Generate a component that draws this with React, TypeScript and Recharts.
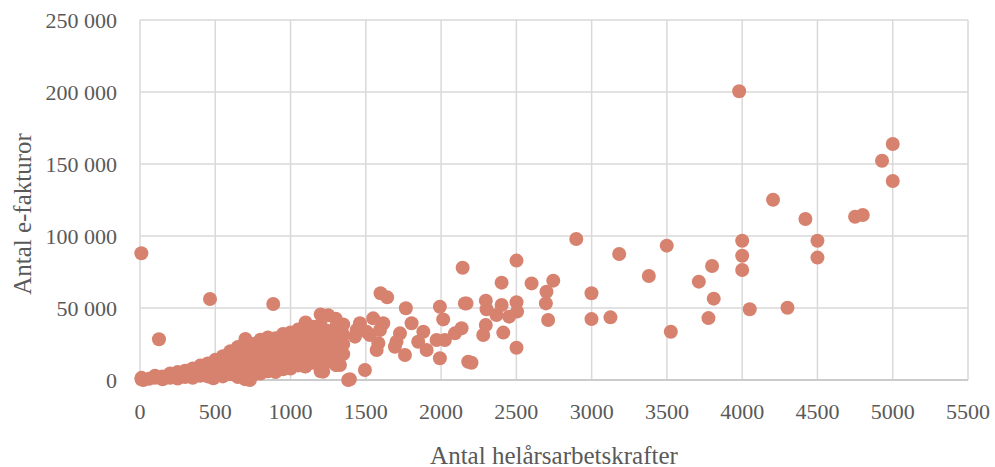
import React from 'react';
import { ScatterChart, Scatter, XAxis, YAxis, CartesianGrid } from 'recharts';

const xTicks = [0, 500, 1000, 1500, 2000, 2500, 3000, 3500, 4000, 4500, 5000, 5500];
const yTicks = [0, 50000, 100000, 150000, 200000, 250000];

// Dense cluster (x, y pairs)
const clusterX = [
  10, 10, 60, 100, 100, 150, 150, 200, 200, 250, 250, 250, 300, 300, 350, 350, 350,
  400, 400, 400, 450, 450, 450, 500, 500, 500, 550, 550, 550, 550,
  600, 600, 600, 600, 650, 650, 650, 650, 650,
  700, 700, 700, 700, 700, 700, 750, 750, 750, 750, 750,
  800, 800, 800, 800, 800, 850, 850, 850, 850, 850,
  900, 900, 900, 900, 900, 950, 950, 950, 950, 950,
  1000, 1000, 1000, 1000, 1000, 1050, 1050, 1050, 1050, 1050,
  1100, 1100, 1100, 1100, 1100, 1100, 1150, 1150, 1150, 1150, 1150,
  1200, 1200, 1200, 1200, 1200, 1200, 1200, 1250, 1250, 1250, 1250, 1250,
  1300, 1300, 1300, 1300, 1300, 1300, 1350, 1350, 1350, 1350,
  22, 487, 730, 1096, 1217, 1306, 1383, 1328, 1328,
];
const clusterY = [
  500, 1500, 800, 1500, 3000, 500, 2500, 1500, 4500, 1000, 3500, 5500, 2000, 6500, 1500, 4500, 8000,
  3000, 6000, 10000, 2500, 7500, 11500, 3500, 9000, 14000, 2500, 6500, 11000, 16500,
  4000, 9000, 14000, 20000, 2000, 7500, 12500, 17500, 23000,
  500, 5000, 10500, 16000, 22000, 28500, 3500, 8500, 14000, 19500, 25000,
  4500, 10000, 15500, 21000, 28000, 6000, 12000, 18000, 24000, 29500,
  5500, 11000, 17000, 23000, 29000, 7500, 13000, 19000, 25000, 32000,
  8000, 14500, 21000, 27500, 33000, 10000, 16000, 22500, 29000, 35000,
  9500, 15000, 21500, 28000, 34500, 40000, 12000, 18000, 24500, 31000, 37000,
  6000, 11000, 17000, 23500, 30000, 38000, 45500, 13000, 20000, 27000, 34000, 45000,
  10500, 16500, 22000, 29500, 36500, 42500, 18000, 25000, 31500, 38500,
  0, 1200, 0, 9300, 5800, 10400, 0, 18700, 10400,
];

// Mid and upper range points
const spreadX = [
  9, 126, 465, 885,
  1598, 1642, 1766, 1992, 2014, 2158, 1549, 1616, 1461, 1439, 1505, 1594, 1428, 1527,
  1583, 1572, 1727, 1704, 1693, 1760, 1804, 1882, 1848, 1904, 1970, 2025, 2092, 2136,
  1992, 1494, 1394, 2180,
  2501, 2143, 2402, 2601, 2745, 2700, 2696, 2711, 2169, 2297, 2302, 2402, 2501, 2505,
  2368, 2452, 2297, 2280, 2413, 2501, 2202,
  2898, 3183, 3499, 3380, 2999, 2999, 3125, 3526, 3712, 3800, 3811, 3776,
  4000, 4000, 4000, 4050, 4301,
  3980, 5000, 4929, 5000, 4205, 4420, 4750, 4801, 4500, 4500,
];
const spreadY = [
  88000, 28300, 56200, 52800,
  60200, 57400, 49800, 50900, 42100, 53200, 42800, 39400, 39400, 34700, 33500, 34700, 30100, 31200,
  25500, 20800, 32400, 26600, 23100, 17400, 39400, 33500, 26600, 20800, 27800, 27800, 32400, 35900,
  15100, 6900, 500, 12700,
  82900, 78000, 67600, 67100, 69000, 61300, 53200, 41700, 53200, 55100, 49100, 52100, 54000, 47500,
  45100, 44000, 38200, 31200, 32900, 22400, 12000,
  97900, 87500, 93300, 72200, 60200, 42300, 43500, 33500, 68300, 79200, 56500, 43000,
  96700, 86300, 76400, 49100, 50200,
  200500, 163900, 152300, 138200, 125200, 111800, 113400, 114600, 96700, 85000,
];

const points = [
  ...clusterX.map((x, i) => ({ x, y: clusterY[i] })),
  ...spreadX.map((x, i) => ({ x, y: spreadY[i] })),
];

const fmt = (v: number) => String(v).replace(/\B(?=(\d{3})+(?!\d))/g, ' ');

const FONT = "'Liberation Serif', 'Times New Roman', serif";
const TXT = '#595959';
const DOT = '#D7826F';

const Dot = (props: any) => <circle cx={props.cx} cy={props.cy} r={7} fill={DOT} />;

export default function App() {
  return (
    <div style={{ width: 995, height: 467, background: '#fff' }}>
      <style>{'body{margin:0;}'}</style>
      <ScatterChart width={995} height={467} margin={{ top: 20, right: 27, bottom: 0, left: 0 }}>
        <CartesianGrid stroke="#d9d9d9" strokeWidth={1.5} />
        <XAxis
          type="number"
          dataKey="x"
          domain={[0, 5500]}
          ticks={xTicks}
          interval={0}
          height={87}
          tickSize={0}
          tickMargin={23}
          axisLine={{ stroke: '#cccccc', strokeWidth: 2 }}
          tick={{ fill: TXT, fontSize: 22, fontFamily: FONT }}
          label={{
            content: () => (
              <text
                x={554}
                y={455}
                textAnchor="middle"
                dominantBaseline="central"
                fill={TXT}
                fontSize={25}
                fontFamily={FONT}
              >
                Antal helårsarbetskrafter
              </text>
            ),
          }}
        />
        <YAxis
          type="number"
          dataKey="y"
          domain={[0, 250000]}
          ticks={yTicks}
          interval={0}
          width={140}
          tickSize={0}
          tickMargin={23}
          axisLine={false}
          tickFormatter={fmt}
          tick={{ fill: TXT, fontSize: 22, fontFamily: FONT }}
          label={{
            content: () => (
              <text
                x={22}
                y={214}
                transform="rotate(-90 22 214)"
                textAnchor="middle"
                dominantBaseline="central"
                fill={TXT}
                fontSize={25}
                fontFamily={FONT}
              >
                Antal e-fakturor
              </text>
            ),
          }}
        />
        <Scatter data={points} shape={Dot} isAnimationActive={false} />
      </ScatterChart>
    </div>
  );
}
